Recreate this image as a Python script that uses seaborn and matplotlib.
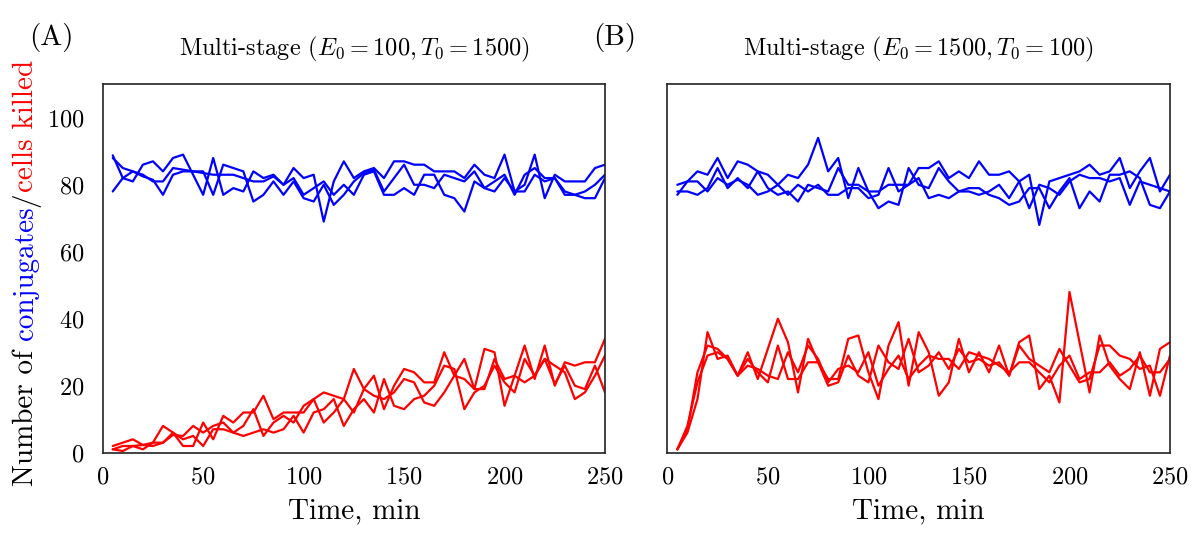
import numpy as np
import pandas as pd
import matplotlib
matplotlib.use("Agg")
import matplotlib.pyplot as plt
import seaborn as sns

# --- datos (t = 5..250 min, paso 5) ---
tiempo = list(range(5, 255, 5))

# panel A: E0=100, T0=1500
conj_A1 = [88.8, 82, 81, 86, 87, 84, 88, 89, 83, 77, 88, 77, 79, 78, 84, 82, 83, 80, 85, 82,
           83, 69, 81, 87, 82, 84, 85, 82, 87, 87, 86, 86, 84, 84, 84, 82, 86, 83, 82, 89,
           78, 80, 89, 76, 83, 81, 81, 81, 85, 86]
conj_A2 = [88, 85, 84, 83, 81, 81, 85, 84.5, 84, 84, 77, 86, 85, 84, 75, 77, 81, 77, 81, 76,
           75, 80, 74, 77, 81, 83.5, 84.5, 78, 82, 86, 80, 80, 79, 83, 82, 81, 84, 79, 81, 83,
           77, 83, 85, 82, 82, 77, 77, 78, 80, 83]
conj_A3 = [78, 82, 84, 82.5, 81.5, 77, 83, 84, 84, 83.5, 83, 83, 83, 82, 81, 81, 82.5, 80, 82, 77,
           79, 81, 77, 80, 77, 83, 84, 77, 77, 79, 77, 83, 83, 77, 76, 72, 81, 79, 78, 82,
           78, 78, 83, 81, 82, 78, 77, 76, 76, 82]
kill_A1 = [2, 3, 4, 2.3, 3, 8, 6, 2, 2, 9, 4, 11, 9, 12, 12, 17, 10, 12, 12, 12,
           16, 18, 17, 16, 25, 19, 23, 13, 20, 25, 24, 21, 21, 30, 23, 28, 19, 31, 30, 14,
           23, 32, 22, 32, 20, 27, 26, 27, 27, 34]
kill_A2 = [1, 2, 2, 1, 3, 3, 5.3, 5, 8, 6, 8, 9, 6, 5, 6, 7, 6, 7, 11, 6,
           12, 13, 16, 8, 13, 16, 12, 22, 14, 13, 16, 17, 20, 26, 25, 13, 18, 20, 26, 21,
           18, 28, 23, 28, 26, 24, 16, 18, 23, 29]
kill_A3 = [1, 0.5, 2, 2.3, 2, 3, 6, 4, 5, 2, 7, 7, 6, 8, 13, 5, 9, 11, 9, 14,
           16, 9, 12, 16, 12, 19, 17, 16, 18, 22, 21, 15, 14, 18, 23, 22, 19, 19, 28, 22,
           23, 21, 23, 28, 20.5, 26, 20, 19, 26, 18]

# panel B: E0=1500, T0=100
conj_B1 = [80, 81, 84, 83, 88, 82, 87, 86, 84, 83, 80, 83, 82, 86, 94, 84, 88, 76, 85, 78,
           78, 80, 80, 80, 85, 85, 87, 82, 84, 82, 87, 83, 83, 84, 81, 83, 68, 81, 82, 83,
           84, 86, 83, 84, 88, 79, 84, 88, 78, 83]
conj_B2 = [78, 78, 77, 79, 85, 79, 82, 79, 84, 79, 77, 78, 75, 80, 79, 78, 85, 80, 80, 78,
           73, 75, 74, 85, 80, 79, 85, 81, 78, 79, 79, 77, 76, 74, 75, 79, 79, 73, 78, 82,
           73, 78, 75, 83, 83, 84, 82, 74, 73, 78]
conj_B3 = [77, 81, 81, 78, 82, 80, 81.5, 80, 77, 78, 80, 77, 80, 78, 80, 77, 77, 79, 79, 76,
           77, 85, 78, 80, 82, 76, 77, 76, 78, 78, 77, 78, 80, 76, 81, 73, 80, 79, 77, 81,
           83, 82, 82, 81, 82, 74, 81, 80, 79, 78]
kill_B1 = [1, 6, 16, 36, 28, 29, 23, 30, 22, 31, 40, 33, 18, 34, 27, 22, 22, 34, 35, 24,
           16, 32, 39, 20, 36, 30, 17, 21, 34, 24, 30, 24, 32, 23, 33, 35, 19, 23, 15, 48,
           33, 18, 35, 26, 22, 19, 30, 17, 31, 33]
kill_B2 = [1, 7, 24, 32, 31, 28, 23, 28, 24, 21, 32, 22, 22, 27, 27, 20, 21, 29, 23, 21,
           32, 27, 25, 34, 24, 26, 30, 25, 31, 27, 28, 26, 27, 23, 32, 28, 26, 24, 31, 26,
           21, 22, 32, 32, 29, 28, 25, 26, 17, 29]
kill_B3 = [1, 8, 21, 29, 30, 28, 23, 26, 25, 23, 22, 30, 24, 32, 28, 21, 25, 26, 24, 30,
           20, 25, 29, 22, 26, 29, 28, 28, 25, 30, 29, 28, 26, 24, 27, 27, 24, 21, 26, 29,
           22, 24, 24, 27, 23, 25, 29, 24, 24, 28]

titulos = [r"Multi-stage ($E_0 = 100, T_0 = 1500$)", r"Multi-stage ($E_0 = 1500, T_0 = 100$)"]
letras = ["(A)", "(B)"]

series = {
    "A": {"conj": [conj_A1, conj_A2, conj_A3], "kill": [kill_A1, kill_A2, kill_A3]},
    "B": {"conj": [conj_B1, conj_B2, conj_B3], "kill": [kill_B1, kill_B2, kill_B3]},
}

filas = []
for panel, grupos in series.items():
    for tipo, lista in grupos.items():
        for i, vals in enumerate(lista):
            for t, v in zip(tiempo, vals):
                filas.append({"panel": panel, "tipo": tipo, "run": f"{tipo}{i}", "t": t, "n": v})
df = pd.DataFrame(filas)

# --- estilo ---
sns.set_style("white")
plt.rcParams["font.family"] = "serif"
plt.rcParams["font.serif"] = ["cmr10"]
plt.rcParams["mathtext.fontset"] = "cm"
plt.rcParams["axes.formatter.use_mathtext"] = True
plt.rcParams["axes.unicode_minus"] = False
plt.rcParams["text.color"] = "black"
plt.rcParams["axes.labelcolor"] = "black"

W, H = 1200, 533
fig = plt.figure(figsize=(W / 100, H / 100), dpi=100)
ax1 = fig.add_axes([102.7 / W, 80.3 / H, 502.3 / W, 368.4 / H])
ax2 = fig.add_axes([667.3 / W, 80.3 / H, 502.7 / W, 368.4 / H])

colores = {"conj": "#0000ff", "kill": "#ff0000"}

for ax, panel, titulo in zip([ax1, ax2], ["A", "B"], titulos):
    sns.lineplot(data=df[df.panel == panel], x="t", y="n", hue="tipo", units="run",
                 estimator=None, palette=colores, legend=False, linewidth=1.6, ax=ax)
    ax.set_xlim(0, 250)
    ax.set_ylim(0, 110)
    ax.set_xticks([0, 50, 100, 150, 200, 250])
    ax.set_yticks([0, 20, 40, 60, 80, 100])
    ax.tick_params(direction="out", length=5, width=1, labelsize=17.5, colors="black")
    ax.tick_params(axis="y", pad=8)
    ax.tick_params(axis="x", pad=5)
    for s in ax.spines.values():
        s.set_color("#222222")
        s.set_linewidth(1.2)
    ax.set_title(titulo, fontsize=17.5, pad=21, color="black")
    ax.set_xlabel("Time, min", fontsize=21, labelpad=7, color="black")
    ax.set_ylabel("")

ax2.tick_params(axis="y", labelleft=False)

fig.text(29 / W, 1 - 45 / H, letras[0], fontsize=21, va="baseline", ha="left")
fig.text(593 / W, 1 - 45 / H, letras[1], fontsize=21, va="baseline", ha="left")

# --- etiqueta del eje y en varios colores ---
renderer = fig.canvas.get_renderer()
trozos = [("Number of", "black"), ("conjugates", "blue"), ("/", "black"), ("cells killed", "red")]
fs = 21
espacio = 0.333 * fs * 100 / 72
x_base = 33
textos = []
largos = []
for txt, col in trozos:
    tt = fig.text(0, 0, txt, rotation=90, rotation_mode="anchor",
                  ha="left", va="baseline", color=col, fontsize=fs)
    textos.append(tt)
    largos.append(tt.get_window_extent(renderer).height)
total = sum(largos) + espacio
y_pos = (H - 273) - total / 2
for k, tt in enumerate(textos):
    tt.set_position((x_base / W, y_pos / H))
    y_pos += largos[k]
    if k == 0:
        y_pos += espacio

fig.savefig("out.png", dpi=100)
